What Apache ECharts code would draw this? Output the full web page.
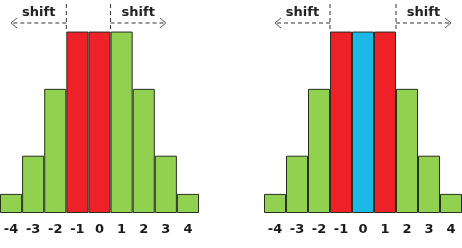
<!DOCTYPE html>
<html>
<head>
<meta charset="utf-8">
<script src="https://cdn.jsdelivr.net/npm/echarts@6/dist/echarts.min.js"></script>
<style>
  html, body { margin: 0; padding: 0; background: #fff; }
  #chart { width: 462px; height: 248px; }
</style>
</head>
<body>
<div id="chart"></div>
<script>
  // bins and bar heights (same for both panels)
  var categories = ['-4', '-3', '-2', '-1', '0', '1', '2', '3', '4'];
  var heights = [1, 3, 6.5, 9.5, 9.5, 9.5, 6.5, 3, 1];
  // highlighted bins per panel
  var leftRed = ['-1', '0'];
  var rightRed = ['-1', '1'];
  var rightBlue = ['0'];
  var shiftLabel = 'shift';

  var GREEN = '#92d050', RED = '#ee2128', BLUE = '#1cb8e8';
  var chart = echarts.init(document.getElementById('chart'));

  function barData(red, blue) {
    return heights.map(function (v, i) {
      var c = categories[i];
      var col = GREEN;
      if (red.indexOf(c) >= 0) col = RED;
      if (blue.indexOf(c) >= 0) col = BLUE;
      return { value: v, itemStyle: { color: col } };
    });
  }

  function xAxis(idx) {
    return {
      type: 'category', gridIndex: idx, data: categories,
      axisLine: { show: false }, axisTick: { show: false },
      axisLabel: {
        interval: 0, margin: 10, color: '#1a1a1a',
        fontFamily: 'DejaVu Sans', fontWeight: 'bold', fontSize: 13
      }
    };
  }
  function yAxis(idx) {
    return { type: 'value', gridIndex: idx, min: 0, max: 10, show: false };
  }
  function barSeries(idx, data) {
    return {
      type: 'bar', xAxisIndex: idx, yAxisIndex: idx, data: data,
      barWidth: '100%', barCategoryGap: 0, silent: true,
      itemStyle: { borderColor: '#26301c', borderWidth: 1 }
    };
  }

  chart.setOption({
    animation: false,
    grid: [
      { left: 0, width: 199, top: 22, height: 191 },
      { left: 264, width: 198, top: 22, height: 191 }
    ],
    xAxis: [xAxis(0), xAxis(1)],
    yAxis: [yAxis(0), yAxis(1)],
    series: [
      barSeries(0, barData(leftRed, [])),
      barSeries(1, barData(rightRed, rightBlue))
    ]
  });

  // dashed "shift" markers at the edges of the highlighted block
  var dash = { stroke: '#333', lineWidth: 1, lineDash: [4, 3] };
  var graphics = [];
  function shiftMarks(idx, firstCat, lastCat) {
    var c0 = chart.convertToPixel({ xAxisIndex: idx }, categories[0]);
    var c1 = chart.convertToPixel({ xAxisIndex: idx }, categories[1]);
    var bw = c1 - c0;
    var xl = chart.convertToPixel({ xAxisIndex: idx }, firstCat) - bw / 2;
    var xr = chart.convertToPixel({ xAxisIndex: idx }, lastCat) + bw / 2;
    var top = chart.convertToPixel({ yAxisIndex: idx }, Math.max.apply(null, heights));
    var ay = 23, len = bw * 2.5;
    [[xl, -1], [xr, 1]].forEach(function (p) {
      var x = p[0], d = p[1], xe = x + d * len;
      graphics.push({ type: 'line', shape: { x1: x, y1: 4, x2: x, y2: top }, style: dash });
      graphics.push({ type: 'line', shape: { x1: x, y1: ay, x2: xe, y2: ay }, style: dash });
      graphics.push({ type: 'polyline',
        shape: { points: [[xe - d * 6, ay - 5], [xe, ay], [xe - d * 6, ay + 5]] },
        style: { stroke: '#555', lineWidth: 1, fill: null } });
      graphics.push({ type: 'text', x: x + d * len / 2, y: 13,
        style: { text: shiftLabel, fill: '#222', font: 'bold 13px "DejaVu Sans"',
          align: 'center', verticalAlign: 'middle' } });
    });
  }
  shiftMarks(0, '-1', '0');
  shiftMarks(1, '-1', '1');
  chart.setOption({ graphic: graphics });
</script>
</body>
</html>
